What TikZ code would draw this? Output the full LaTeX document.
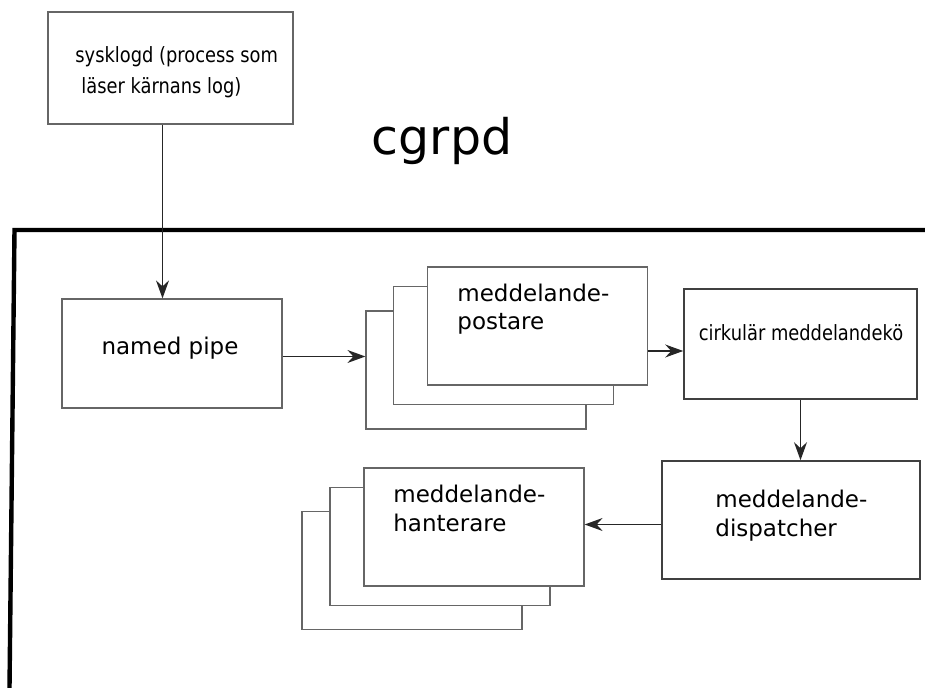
\documentclass[tikz,border=0pt]{standalone}
\usepackage{fontspec}
\setmainfont{DejaVu Sans}
\newfontfamily\condfont[FakeStretch=0.85]{DejaVu Sans}
\usetikzlibrary{arrows.meta,calc}
\tikzset{
  box/.style={draw=black!60,line width=.6pt,fill=white,inner sep=0},
  stackbox/.style={box,minimum width=110pt,minimum height=59pt},
  darkbox/.style={box,draw=black!75,line width=.8pt},
  lbl/.style={inner sep=0,font=\fontsize{11.5}{14}\selectfont},
  smalllbl/.style={inner sep=0,font=\condfont\fontsize{10.5}{13}\selectfont},
  arr/.style={draw=black!85,line width=.6pt,-{Stealth[length=9pt,width=6.5pt,inset=3pt]}},
}
\begin{document}
\begin{tikzpicture}[x=.5pt,y=-.5pt]
    \useasboundingbox (0,0) rectangle (925,688);
    % outer frame of the daemon
    \draw[line width=2.2pt] (925,230) -- (14.5,230) -- (9.5,688);
    \node[anchor=base,inner sep=0,font=\fontsize{24.5}{29}\selectfont] (title) at (442,155) {cgrpd};
    % kernel log reader
    \node[box,minimum width=122.5pt,minimum height=56pt] (sys) at (170.5,68) {};
    \node[smalllbl,anchor=base west] (sysA) at (75,63) {sysklogd (process som};
    \node[smalllbl,anchor=base west] (sysB) at (81,94) {läser kärnans log)};
    \node[box,minimum width=110pt,minimum height=54.5pt] (pipe) at (172,353.5) {};
    \node[lbl,anchor=base] (pipetext) at (170,355) {named pipe};
    % postare
    \node[stackbox] (postC) at (476,370) {};
    \node[stackbox] (postB) at (503.5,345.5) {};
    \node[stackbox] (postA) at (537.5,326) {};
    \node[lbl,anchor=base west] (postT1) at (457,302) {meddelande-};
    \node[lbl,anchor=base west] (postT2) at (457,330) {postare};
    \node[darkbox,minimum width=116.5pt,minimum height=55pt] (cirk) at (800.5,344) {};
    \node[smalllbl,anchor=base] (cirktext) at (801,341) {cirkulär meddelandekö};
    \node[darkbox,minimum width=129pt,minimum height=59pt] (disp) at (791,520) {};
    \node[lbl,anchor=base west] (dispT1) at (715,508) {meddelande-};
    \node[lbl,anchor=base west] (dispT2) at (715,537) {dispatcher};
    % hanterare
    \node[stackbox] (hantC) at (412,570.5) {};
    \node[stackbox] (hantB) at (440,546.5) {};
    \node[stackbox] (hantA) at (474,527) {};
    \node[lbl,anchor=base west] (hantT1) at (393,503) {meddelande-};
    \node[lbl,anchor=base west] (hantT2) at (393,531) {hanterare};
    % arrows
    \coordinate (sysout) at ($(sys.south)+(-8,0)$);
    \draw[arr] (sysout) -- (sysout |- pipe.north);
    \coordinate (pipeout) at ($(pipe.east)+(0,3)$);
    \draw[arr] (pipeout) -- (pipeout -| postC.west);
    \coordinate (cirkin) at ($(cirk.west)+(0,7)$);
    \draw[arr] (cirkin -| postA.east) -- (cirkin);
    \draw[arr] (cirk.south) -- (cirk.south |- disp.north);
    \coordinate (dispout) at ($(disp.west)+(0,4.5)$);
    \draw[arr] (dispout) -- (dispout -| hantA.east);
\end{tikzpicture}
\end{document}
